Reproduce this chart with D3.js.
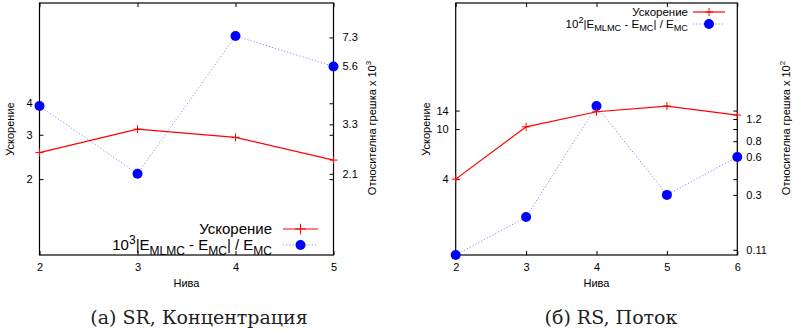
<!DOCTYPE html>
<html><head><meta charset="utf-8">
<script src="https://cdn.jsdelivr.net/npm/d3@7"></script>
<style>
body{margin:0;background:#fff;}
svg{display:block;}
text{font-family:"Liberation Sans",Arial,sans-serif;fill:#000;}
text.cap{font-family:"DejaVu Serif",serif;fill:#222;}
</style></head>
<body><svg id="c" width="794" height="333"></svg>
<script>
// Panel (a) SR, Концентрация
const levelsA = [2, 3, 4, 5];
const speedupA = [2.55, 3.16, 2.93, 2.38];
const errorA = [3.9, 2.1, 7.4, 5.6];
const yTicksA = [2, 3, 4];
const y2TicksA = [2.1, 3.3, 5.6, 7.3];
// Panel (б) RS, Поток
const levelsB = [2, 3, 4, 5, 6];
const speedupB = [4.0, 10.4, 13.7, 15.2, 12.9];
const errorB = [0.1, 0.2, 1.52, 0.3, 0.6];
const yTicksB = [4, 10, 14];
const y2TicksB = [0.11, 0.3, 0.6, 0.8, 1.2];

const svg = d3.select("#c");
const RED = "#ff0000", BLUE = "#0000ff", DOT = "#8c8cff";
const TK = 4;

function panel(o) {
  const g = svg.append("g");
  const x = d3.scaleLinear().domain(o.xDom).range([o.x0, o.x1]);
  const y = d3.scaleLog().domain(o.yDom).range([o.yb, o.yt]);
  const y2 = d3.scaleLog().domain(o.y2Dom).range([o.yb, o.yt]);
  const fmt = d => String(d);

  const ax = g.append("g").attr("transform", `translate(0,${o.yb})`)
    .call(d3.axisBottom(x).tickValues(o.levels).tickFormat(fmt).tickSizeInner(-TK).tickSizeOuter(0).tickPadding(8));
  const axT = g.append("g").attr("transform", `translate(0,${o.yt})`)
    .call(d3.axisTop(x).tickValues(o.levels).tickFormat("").tickSizeInner(-TK).tickSizeOuter(0));
  const ay = g.append("g").attr("transform", `translate(${o.x0},0)`)
    .call(d3.axisLeft(y).tickValues(o.yTicks).tickFormat(fmt).tickSizeInner(-TK).tickSizeOuter(0).tickPadding(7));
  const ayM = g.append("g").attr("transform", `translate(${o.x1},0)`)
    .call(d3.axisRight(y).tickValues(o.yTicks).tickFormat("").tickSizeInner(-TK).tickSizeOuter(0));
  const ay2 = g.append("g").attr("transform", `translate(${o.x1},0)`)
    .call(d3.axisRight(y2).tickValues(o.y2Ticks).tickFormat(fmt).tickSizeInner(-TK).tickSizeOuter(0).tickPadding(9));
  [ax, axT, ay, ayM, ay2].forEach(a => {
    a.select(".domain").remove();
    a.selectAll("line").attr("stroke", "#000").attr("stroke-width", 1);
    a.selectAll("text").attr("font-size", 11).attr("fill", "#000");
  });
  g.append("rect").attr("x", o.x0).attr("y", o.yt).attr("width", o.x1 - o.x0).attr("height", o.yb - o.yt)
    .attr("fill", "none").attr("stroke", "#000").attr("stroke-width", 1.2);

  g.append("text").attr("x", (o.x0 + o.x1) / 2).attr("y", o.yb + 32).attr("text-anchor", "middle")
    .attr("font-size", 11).text("Нива");
  g.append("text").attr("transform", `translate(${o.x0 - 26},${(o.yt + o.yb) / 2}) rotate(-90)`)
    .attr("text-anchor", "middle").attr("font-size", 11).text("Ускорение");
  const t2 = g.append("text").attr("transform", `translate(${o.x1 + o.y2TitleOff},${o.y2TitleY}) rotate(-90)`)
    .attr("text-anchor", "middle").attr("font-size", 11);
  t2.append("tspan").text("Относителна грешка x 10");
  t2.append("tspan").attr("font-size", 8).attr("dy", -5).text(o.exp);

  const pts2 = o.levels.map((l, i) => [x(l), y2(o.err[i])]);
  g.append("path").attr("d", d3.line()(pts2)).attr("fill", "none").attr("stroke", DOT)
    .attr("stroke-width", 1).attr("stroke-dasharray", "1.2,2");
  g.selectAll(null).data(pts2).enter().append("circle")
    .attr("cx", d => d[0]).attr("cy", d => d[1]).attr("r", 5).attr("fill", BLUE);

  const pts = o.levels.map((l, i) => [x(l), y(o.sp[i])]);
  g.append("path").attr("d", d3.line()(pts)).attr("fill", "none").attr("stroke", RED).attr("stroke-width", 1.2);
  const plus = (gg, cx, cy, s) => gg.append("path")
    .attr("d", `M${cx - s},${cy}H${cx + s}M${cx},${cy - s}V${cy + s}`).attr("stroke", RED).attr("stroke-width", 1);
  pts.forEach(p => plus(g, p[0], p[1], 4));

  const L = o.leg;
  g.append("text").attr("x", L.tx).attr("y", L.y1).attr("dy", "0.35em").attr("text-anchor", "end")
    .attr("font-size", L.fs).text("Ускорение");
  g.append("line").attr("x1", L.lx0).attr("x2", L.lx1).attr("y1", L.y1).attr("y2", L.y1).attr("stroke", RED).attr("stroke-width", 1.2);
  plus(g, (L.lx0 + L.lx1) / 2, L.y1, L.fs * 0.35);
  const tt = g.append("text").attr("x", L.tx).attr("y", L.y2).attr("dy", "0.35em").attr("text-anchor", "end")
    .attr("font-size", L.fs);
  const sub = L.fs * 0.8, sh = L.fs * 0.3;
  tt.append("tspan").text("10");
  tt.append("tspan").attr("font-size", sub).attr("dy", -L.fs * 0.4).text(o.exp);
  tt.append("tspan").attr("dy", L.fs * 0.4).text("|E");
  tt.append("tspan").attr("font-size", sub).attr("dy", sh).text("MLMC");
  tt.append("tspan").attr("dy", -sh).text(" - E");
  tt.append("tspan").attr("font-size", sub).attr("dy", sh).text("MC");
  tt.append("tspan").attr("dy", -sh).text("| / E");
  tt.append("tspan").attr("font-size", sub).attr("dy", sh).text("MC");
  g.append("line").attr("x1", L.lx0).attr("x2", L.lx1).attr("y1", L.y2).attr("y2", L.y2).attr("stroke", DOT)
    .attr("stroke-width", 1).attr("stroke-dasharray", "1.2,2");
  g.append("circle").attr("cx", (L.lx0 + L.lx1) / 2).attr("cy", L.y2).attr("r", 5).attr("fill", BLUE);

  svg.append("text").attr("class", "cap").attr("x", o.capX).attr("y", 324).attr("text-anchor", "middle")
    .attr("font-size", 19).text(o.cap);
}

panel({
  levels: levelsA, sp: speedupA, err: errorA, yTicks: yTicksA, y2Ticks: y2TicksA,
  xDom: [2, 5], yDom: [1, 10], y2Dom: [1, 10],
  x0: 39.5, x1: 333.5, yt: 3, yb: 255, exp: "3",
  y2TitleOff: 42, y2TitleY: 128,
  leg: { tx: 272, lx0: 283, lx1: 318, y1: 229, y2: 245, fs: 15 },
  cap: "(a) SR, Концентрация", capX: 199
});
panel({
  levels: levelsB, sp: speedupB, err: errorB, yTicks: yTicksB, y2Ticks: y2TicksB,
  xDom: [2, 6], yDom: [1, 100], y2Dom: [0.1, 10],
  x0: 455.7, x1: 737.3, yt: 3, yb: 255, exp: "2",
  y2TitleOff: 53, y2TitleY: 128,
  leg: { tx: 688, lx0: 693, lx1: 725, y1: 12, y2: 24, fs: 11.5 },
  cap: "(б) RS, Поток", capX: 611
});
</script></body></html>
